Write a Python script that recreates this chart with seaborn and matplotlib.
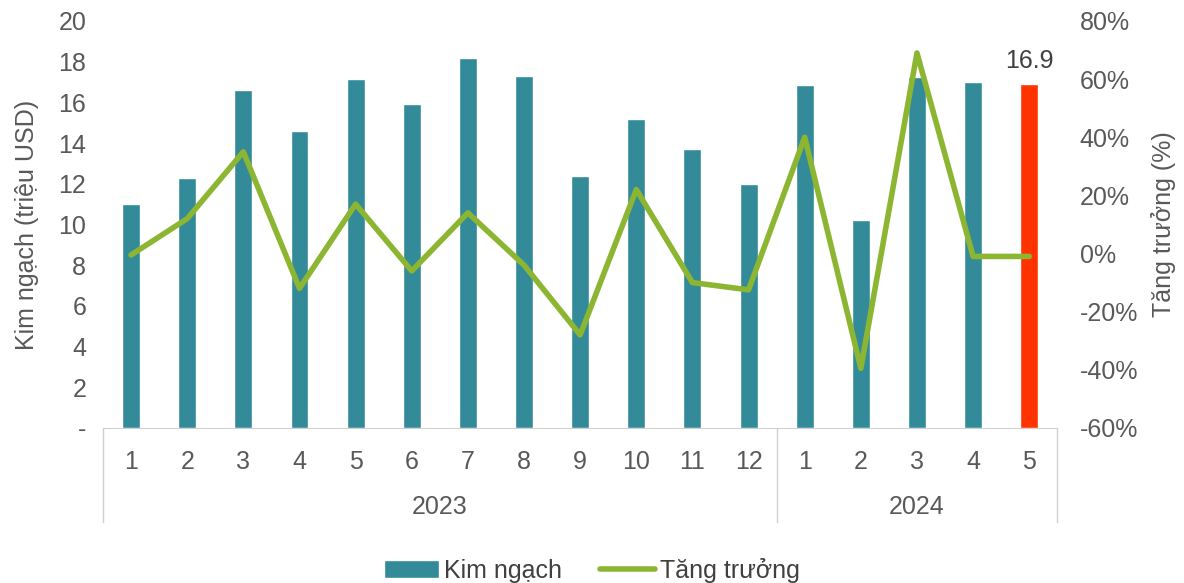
import matplotlib
matplotlib.use('Agg')
from matplotlib import pyplot as plt
from matplotlib.lines import Line2D
from matplotlib.patches import Patch
import numpy as np
import pandas as pd
import seaborn as sns

# du lieu doc tu bieu do
years = ['2023'] * 12 + ['2024'] * 5
months = ['1', '2', '3', '4', '5', '6', '7', '8', '9', '10', '11', '12',
          '1', '2', '3', '4', '5']
kim_ngach = [11.0, 12.3, 16.6, 14.6, 17.15, 15.9, 18.2, 17.3, 12.4, 15.2, 13.7, 12.0,
             16.85, 10.2, 17.25, 17.0, 16.9]
tang_truong = [-0.5, 12, 35, -12, 17, -6, 14, -4, -28, 22, -10, -12.5,
               40, -39.5, 69, -1, -1]

TEAL = '#338B99'
GREEN = '#8CB631'
RED = '#FF3300'
GRAY = '#595959'
FS = 18

sns.set_style('white')
plt.rcParams['font.family'] = ['Liberation Sans', 'DejaVu Sans']

df = pd.DataFrame({'year': years, 'month': months,
                   'kim_ngach': kim_ngach, 'tang_truong': tang_truong})
df['pos'] = [str(i) for i in range(len(df))]
df['mau'] = ['thuong'] * (len(df) - 1) + ['moi']

fig = plt.figure(figsize=(11.84, 5.83), dpi=100)
ax = fig.add_axes([0.087, 0.266, 0.806, 0.698])

sns.barplot(data=df, x='pos', y='kim_ngach', hue='mau',
            palette={'thuong': TEAL, 'moi': RED}, width=0.32,
            legend=False, ax=ax, saturation=1)
ax.set_ylim(0, 20)
ax.set_xlim(-0.5, len(df) - 0.5)
ax.set_yticks(range(0, 21, 2))
ax.set_yticklabels(['-'] + [str(v) for v in range(2, 21, 2)])
ax.set_xticks(range(len(df)))
ax.set_xticklabels(months)
ax.tick_params(axis='both', labelsize=FS, colors=GRAY, length=0)
ax.tick_params(axis='x', pad=16)
ax.tick_params(axis='y', pad=12)
ax.set_xlabel('')
ax.set_ylabel('Kim ngạch (triệu USD)', fontsize=FS, color=GRAY, labelpad=14)
for s in ['top', 'right', 'left']:
    ax.spines[s].set_visible(False)
ax.spines['bottom'].set_color('#D0D0D0')

# nhan gia tri cot cuoi
ax.text(len(df) - 1, kim_ngach[-1] + 0.55, f'{kim_ngach[-1]:.1f}',
        ha='center', va='bottom', fontsize=FS, color='#404040')

# truc phai: tang truong
ax2 = ax.twinx()
sns.lineplot(x=np.arange(len(df)), y=df['tang_truong'], color=GREEN,
             linewidth=4, ax=ax2)
ax2.set_ylim(-60, 80)
ax2.set_yticks(range(-60, 81, 20))
ax2.set_yticklabels([f'{v}%' for v in range(-60, 81, 20)])
ax2.tick_params(axis='y', labelsize=FS, colors=GRAY, length=0, pad=16)
ax2.set_ylabel('Tăng trưởng (%)', fontsize=FS, color=GRAY, labelpad=9)
ax2.set_xlim(-0.5, len(df) - 0.5)
for s in ax2.spines.values():
    s.set_visible(False)

# nhom nam duoi truc x
trans = ax.get_xaxis_transform()
sep_color = '#D0D0D0'
bounds = [-0.5, 11.5, 16.5]
for b in bounds:
    ax.plot([b, b], [0, -0.23], transform=trans, color=sep_color,
            lw=1, clip_on=False)
for yr, lo, hi in [('2023', -0.5, 11.5), ('2024', 11.5, 16.5)]:
    ax.text((lo + hi) / 2, -0.194, yr, transform=trans, ha='center',
            va='center', fontsize=FS, color=GRAY)

handles = [Patch(facecolor=TEAL, label='Kim ngạch'),
           Line2D([0], [0], color=GREEN, lw=4, label='Tăng trưởng')]
fig.legend(handles=handles, loc='lower center', ncol=2, frameon=False,
           fontsize=FS, bbox_to_anchor=(0.5, -0.038), handlelength=2.2,
           handletextpad=0.2, columnspacing=1.5, labelcolor='#404040')

fig.savefig('out.png', dpi=100)
